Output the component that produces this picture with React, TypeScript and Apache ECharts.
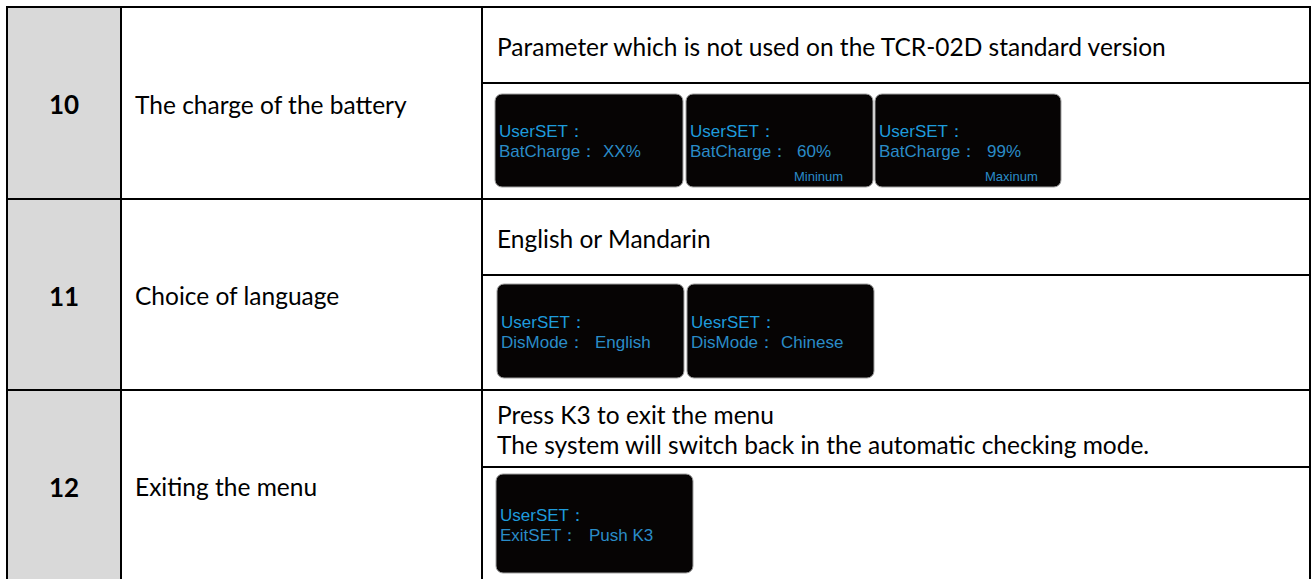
import React, { useEffect, useRef } from "react";
import * as echarts from "echarts";

// ---- Data ----
const rowNumbers = ["10", "11", "12"];
const rowTitles = ["The charge of the battery", "Choice of language", "Exiting the menu"];
const rowDescriptions = [
  ["Parameter which is not used on the TCR-02D standard version"],
  ["English or Mandarin"],
  ["Press K3 to exit the menu", "The system will switch back in the automatic checking mode."],
];
// screens: [line1, line2 label, line2 value, note]
const screensRow10 = [
  ["UserSET：", "BatCharge：", "XX%", ""],
  ["UserSET：", "BatCharge：", "60%", "Mininum"],
  ["UserSET：", "BatCharge：", "99%", "Maxinum"],
];
const screensRow11 = [
  ["UserSET：", "DisMode：", "English", ""],
  ["UesrSET：", "DisMode：", "Chinese", ""],
];
const screensRow12 = [["UserSET：", "ExitSET：", "Push K3", ""]];
const screens = [screensRow10, screensRow11, screensRow12];

// ---- Layout ----
const COLS = [7, 121, 482, 1310];
const ROWS = [7, 199, 390, 581];
const INNER = [83, 275, 467];
const BOXES = [
  [
    [495, 94, 188, 93],
    [686, 94, 187, 93],
    [875, 94, 186, 93],
  ],
  [
    [497, 284, 187, 94],
    [687, 284, 187, 94],
  ],
  [[496, 474, 197, 99]],
];
const LINE_OFFSET = [37, 38, 41];
const VALUE_X = [
  [603, 797, 987],
  [595, 781],
  [589],
];
const NOTE_X = [
  [0, 794, 985],
  [0, 0],
  [0],
];

const MAIN_FONT = "Lato, 'Open Sans', sans-serif";
const SCREEN_FONT = "'Liberation Sans', Arial, sans-serif";

function buildGraphics() {
  const els: any[] = [];
  els.push({
    type: "rect",
    shape: { x: COLS[0], y: ROWS[0], width: COLS[1] - COLS[0], height: ROWS[3] - ROWS[0] },
    style: { fill: "#d9d9d9" },
  });
  rowNumbers.forEach((num, i) => {
    const cy = (ROWS[i] + ROWS[i + 1]) / 2 + 1;
    els.push({
      type: "text",
      x: (COLS[0] + COLS[1]) / 2,
      y: cy,
      style: {
        text: num,
        font: `bold 26px ${MAIN_FONT}`,
        fill: "#000",
        align: "center",
        verticalAlign: "middle",
      },
    });
    els.push({
      type: "text",
      x: 135,
      y: cy,
      style: {
        text: rowTitles[i],
        font: `24.5px ${MAIN_FONT}`,
        fill: "#000",
        align: "left",
        verticalAlign: "middle",
      },
    });
    const desc = rowDescriptions[i];
    const top = ROWS[i];
    const mid = INNER[i];
    const lh = 30;
    const startY = (top + mid) / 2 - ((desc.length - 1) * lh) / 2 + 1;
    desc.forEach((d, k) => {
      els.push({
        type: "text",
        x: 497,
        y: startY + k * lh,
        style: {
          text: d,
          font: `24.5px ${MAIN_FONT}`,
          fill: "#000",
          align: "left",
          verticalAlign: "middle",
        },
      });
    });
    screens[i].forEach((s, j) => {
      const [bx, by, bw, bh] = BOXES[i][j];
      els.push({
        type: "rect",
        shape: { x: bx, y: by, width: bw, height: bh, r: 7 },
        style: { fill: "#060404", stroke: "#a0a0a0", lineWidth: 1 },
      });
      const l1y = by + LINE_OFFSET[i];
      const l2y = l1y + 20;
      els.push({
        type: "text",
        x: bx + 4,
        y: l1y,
        style: { text: s[0], font: `17px ${SCREEN_FONT}`, fill: "#1e9bdc", verticalAlign: "middle" },
      });
      els.push({
        type: "text",
        x: bx + 4,
        y: l2y,
        style: { text: s[1], font: `17px ${SCREEN_FONT}`, fill: "#2a8cc8", verticalAlign: "middle" },
      });
      els.push({
        type: "text",
        x: VALUE_X[i][j],
        y: l2y,
        style: { text: s[2], font: `17px ${SCREEN_FONT}`, fill: "#2a8cc8", verticalAlign: "middle" },
      });
      if (s[3]) {
        els.push({
          type: "text",
          x: NOTE_X[i][j],
          y: by + bh - 11,
          style: { text: s[3], font: `13px ${SCREEN_FONT}`, fill: "#2a8cc8", verticalAlign: "middle" },
        });
      }
    });
  });
  const lineStyle = { stroke: "#000", lineWidth: 2 };
  els.push({ type: "line", shape: { x1: COLS[0] - 1, y1: ROWS[0], x2: COLS[3] + 1, y2: ROWS[0] }, style: lineStyle });
  ROWS.slice(1, 3).forEach((y) => {
    els.push({ type: "line", shape: { x1: COLS[0], y1: y, x2: COLS[3], y2: y }, style: lineStyle });
  });
  INNER.forEach((y) => {
    els.push({ type: "line", shape: { x1: COLS[2], y1: y, x2: COLS[3], y2: y }, style: lineStyle });
  });
  COLS.forEach((x) => {
    els.push({ type: "line", shape: { x1: x, y1: ROWS[0], x2: x, y2: 579 }, style: lineStyle });
  });
  return els;
}

export default function App() {
  const ref = useRef<HTMLDivElement>(null);
  useEffect(() => {
    if (!ref.current) return;
    const chart = echarts.init(ref.current, undefined, { renderer: "svg" });
    chart.setOption({
      animation: false,
      backgroundColor: "#ffffff",
      graphic: { elements: buildGraphics() },
    });
    return () => chart.dispose();
  }, []);
  return (
    <div
      ref={ref}
      style={{ position: "fixed", left: 0, top: 0, width: 1314, height: 579, background: "#fff" }}
    />
  );
}
